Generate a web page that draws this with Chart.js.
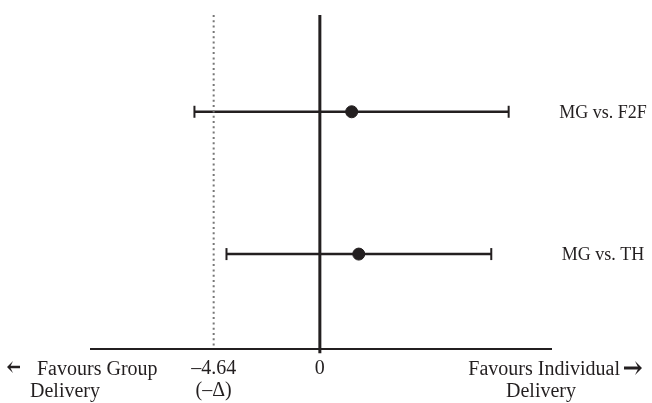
<!DOCTYPE html>
<html>
<head>
<meta charset="utf-8">
<script src="https://cdn.jsdelivr.net/npm/chart.js@4/dist/chart.umd.min.js"></script>
<style>
  html, body { margin: 0; padding: 0; background: #fff; }
  #wrap { width: 652px; height: 403px; }
</style>
</head>
<body>
<div id="wrap"><canvas id="forest"></canvas></div>
<script>
// data
const comparisons = ['MG vs. F2F', 'MG vs. TH'];
const estimates = [1.39, 1.70];
const lowerCI = [-5.48, -4.08];
const upperCI = [8.25, 7.49];
const margin = -4.64;
const tickValues = [-4.64, 0];
const tickLabels = [['\u20134.64', '(\u2013\u0394)'], '0'];

const ink = '#231f20';
const serif = '"Liberation Serif", "Times New Roman", serif';

const yTop = -0.68;
const yBottom = 1.667;

const datasets = [];

// zero line
datasets.push({
  type: 'line',
  data: [{ x: 0, y: yTop }, { x: 0, y: 1.696 }],
  borderColor: ink,
  borderWidth: 3,
  pointRadius: 0,
  clip: false
});

// margin (-delta) line
datasets.push({
  type: 'line',
  data: [{ x: margin, y: yTop }, { x: margin, y: yBottom }],
  borderColor: '#777',
  borderWidth: 2,
  borderDash: [2, 3.3],
  pointRadius: 0
});

// confidence intervals with caps
comparisons.forEach((c, i) => {
  datasets.push({
    type: 'line',
    data: [{ x: lowerCI[i], y: i }, { x: upperCI[i], y: i }],
    borderColor: ink,
    borderWidth: 2.5,
    pointStyle: 'line',
    rotation: 90,
    pointRadius: 6,
    pointBorderWidth: 2,
    pointBorderColor: ink
  });
});

// point estimates
datasets.push({
  type: 'scatter',
  data: estimates.map((e, i) => ({ x: e, y: i })),
  pointRadius: 6,
  pointBackgroundColor: ink,
  pointBorderColor: ink
});

function arrow(ctx, x1, x2, y, head, w) {
  const dir = x2 > x1 ? 1 : -1;
  ctx.beginPath();
  ctx.moveTo(x1, y);
  ctx.lineTo(x2 - dir * 3, y);
  ctx.lineWidth = w;
  ctx.stroke();
  ctx.beginPath();
  ctx.moveTo(x2, y);
  ctx.lineTo(x2 - dir * head, y - head);
  ctx.lineTo(x2 - dir * head * 0.5, y);
  ctx.lineTo(x2 - dir * head, y + head);
  ctx.closePath();
  ctx.fill();
}

const textLabels = {
  id: 'textLabels',
  afterDraw(chart) {
    const ctx = chart.ctx;
    const ys = chart.scales.y;
    ctx.save();
    ctx.fillStyle = ink;
    ctx.strokeStyle = ink;
    ctx.textBaseline = 'middle';
    ctx.font = '18px ' + serif;
    ctx.textAlign = 'center';
    comparisons.forEach((c, i) => {
      ctx.fillText(c, chart.chartArea.right + 52, ys.getPixelForValue(i) + 1);
    });

    // direction captions under the axis
    ctx.font = '20px ' + serif;
    ctx.textAlign = 'left';
    ctx.fillText('Favours Group', 37, 370);
    ctx.textAlign = 'center';
    ctx.fillText('Delivery', 65, 392);
    ctx.textAlign = 'right';
    ctx.fillText('Favours Individual', 620, 370);
    ctx.textAlign = 'center';
    ctx.fillText('Delivery', 541, 392);

    arrow(ctx, 20, 7, 367, 6, 2.5);
    arrow(ctx, 624, 642, 368, 7, 3);
    ctx.restore();
  }
};

new Chart(document.getElementById('forest'), {
  type: 'scatter',
  data: { datasets: datasets },
  options: {
    responsive: true,
    maintainAspectRatio: false,
    animation: false,
    layout: { padding: { left: 91, right: 101, top: 15, bottom: 0 } },
    plugins: { legend: { display: false }, tooltip: { enabled: false } },
    scales: {
      x: {
        type: 'linear',
        min: -10,
        max: 10.1,
        afterBuildTicks: (axis) => { axis.ticks = tickValues.map(v => ({ value: v })); },
        afterFit: (axis) => { axis.height = 54; },
        grid: { display: false, drawTicks: false },
        border: { display: true, color: ink, width: 2 },
        ticks: {
          autoSkip: false,
          maxRotation: 0,
          padding: 9,
          color: ink,
          font: { family: serif, size: 20, lineHeight: 1.1 },
          callback: (value) => {
            const idx = tickValues.indexOf(value);
            return idx >= 0 ? tickLabels[idx] : '';
          }
        }
      },
      y: {
        type: 'linear',
        display: false,
        reverse: true,
        min: yTop,
        max: yBottom
      }
    }
  },
  plugins: [textLabels]
});
</script>
</body>
</html>
